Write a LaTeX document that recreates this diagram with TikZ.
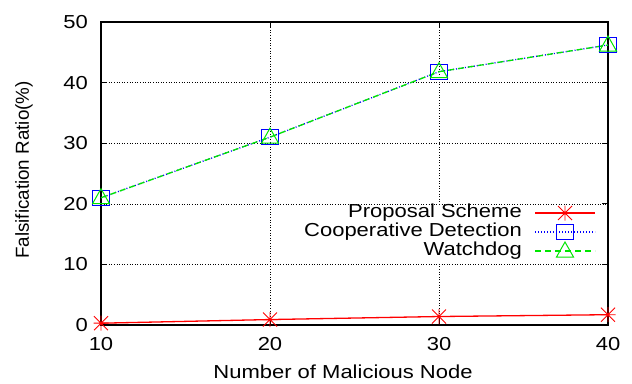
\documentclass[tikz,border=0pt]{standalone}
\usepackage{fontspec}
\setmainfont{Liberation Sans}[FakeStretch=1.17]
\newfontfamily\ylabfont{Liberation Sans}
\definecolor{gpred}{RGB}{255,0,0}
\definecolor{gpblue}{RGB}{0,0,255}
\definecolor{gpgreen}{RGB}{0,230,0}
\begin{document}
\begin{tikzpicture}[x=1pt,y=-1pt,
  lbl/.style={font=\fontsize{18.8}{22}\selectfont, inner sep=0pt, text=black},
  gridline/.style={black, line width=0.5pt, dash pattern=on 1pt off 1.6pt},
  frame/.style={black, line width=1.2pt},
  tickline/.style={black, line width=0.8pt},
  propline/.style={gpred, line width=1.3pt},
  coopline/.style={gpblue, line width=1.3pt, dash pattern=on 1pt off 2pt},
  watchline/.style={gpgreen, line width=1.3pt, dash pattern=on 6pt off 4pt},
  starmark/.pic={\draw[gpred, line width=0.9pt] (-7.5pt,0pt)--(7.5pt,0pt) (0pt,-7.5pt)--(0pt,7.5pt) (-7pt,-7pt)--(7pt,7pt) (-7pt,7pt)--(7pt,-7pt);},
  sqmark/.pic={\draw[gpblue, line width=1pt] (-8.5pt,-7.5pt) rectangle (8.5pt,7.5pt);},
  trimark/.pic={\draw[gpgreen, line width=1pt] (0pt,9pt)--(8.5pt,-6pt)--(-8.5pt,-6pt)--cycle;}
]
\useasboundingbox (0,0) rectangle (632,383);
\fill[white] (0,0) rectangle (632,383);

% grid
\foreach \gx in {270,439} \draw[gridline] (\gx,22) -- (\gx,325);
\foreach \gy in {264.4,203.8,143.2,82.6} \draw[gridline] (101,\gy) -- (608,\gy);

% legend background
\fill[white] (296,206) rectangle (606,262);

% frame and ticks
\draw[frame] (101,22) rectangle (608,325);
\foreach \gx in {270,439} {
  \draw[tickline] (\gx,325) -- ++(0pt,6pt);
  \draw[tickline] (\gx,22) -- ++(0pt,-6pt);
}
\foreach \gy in {264.4,203.8,143.2,82.6} {
  \draw[tickline] (101,\gy) -- ++(6pt,0pt);
  \draw[tickline] (608,\gy) -- ++(-6pt,0pt);
}

% tick labels
\foreach \v/\gy in {0/325,10/264.4,20/203.8,30/143.2,40/82.6,50/22}
  \node[lbl, anchor=east] (yt\v) at (88,\gy) {\v};
\foreach \v/\gx in {10/101,20/270,30/439,40/608}
  \node[lbl] (xt\v) at (\gx,344) {\v};

% axis labels
\node[lbl] (xlab) at (343,372) {Number of Malicious Node};
\node[lbl, font=\ylabfont\fontsize{18.8}{22}\selectfont, rotate=90] (ylab) at (24,170) {Falsification Ratio(\%)};

% legend text
\node[lbl, anchor=east] (l1) at (522,213) {Proposal Scheme};
\node[lbl, anchor=east] (l2) at (522,232) {Cooperative Detection};
\node[lbl, anchor=east] (l3) at (522,251) {Watchdog};

% coordinates
\begin{scope}[shift={(-68,325)}, x=16.9pt, y=6.06pt]
  \coordinate (p1) at (10,0.3);
  \coordinate (p2) at (20,0.9);
  \coordinate (p3) at (30,1.4);
  \coordinate (p4) at (40,1.7);
  \coordinate (c1) at (10,21);
  \coordinate (c2) at (20,31);
  \coordinate (c3) at (30,41.8);
  \coordinate (c4) at (40,46.2);
\end{scope}
\coordinate (s1a) at (535,213); \coordinate (s1b) at (595,213);
\coordinate (s2a) at (535,232); \coordinate (s2b) at (595,232);
\coordinate (s3a) at (535,251); \coordinate (s3b) at (595,251);
\coordinate (m1) at (565,213);
\coordinate (m2) at (565,232);
\coordinate (m3) at (565,251);

% data
\draw[propline] (p1) -- (p2) -- (p3) -- (p4);
\draw[coopline] (c1) -- (c2) -- (c3) -- (c4);
\draw[watchline] (c1) -- (c2) -- (c3) -- (c4);
\foreach \i in {1,2,3,4} {
  \pic at (p\i) {starmark};
  \pic at (c\i) {sqmark};
  \pic at (c\i) {trimark};
}

% legend samples
\draw[propline] (s1a) -- (s1b);
\draw[coopline] (s2a) -- (s2b);
\draw[watchline] (s3a) -- (s3b);
\pic at (m1) {starmark};
\pic at (m2) {sqmark};
\pic at (m3) {trimark};
\end{tikzpicture}
\end{document}
